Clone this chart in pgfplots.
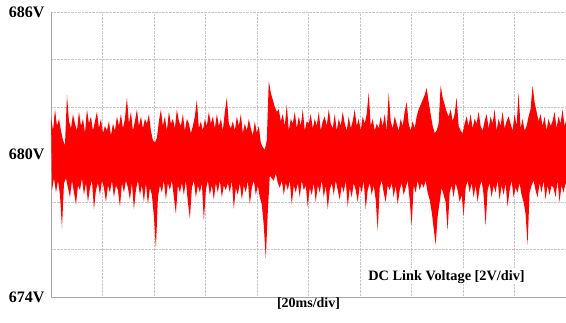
\documentclass[border=0pt]{standalone}
\usepackage{fontspec}
\setmainfont{Liberation Serif}
\usepackage{pgfplots}
\pgfplotsset{compat=1.18}
\usepgfplotslibrary{fillbetween}
\usepackage{pgfplotstable}
% DC link voltage samples: hi = upper excursion, lo = lower excursion (every 0.776 ms)
\pgfplotstableread{
hi lo
681.6 678.5
681.0 679.0
681.9 678.4
681.2 678.9
681.5 678.3
681.0 676.9
680.6 678.8
680.4 679.0
682.5 678.6
681.4 678.2
681.1 678.9
681.7 678.4
681.3 677.9
681.0 678.7
681.8 678.5
681.2 679.0
681.5 678.3
680.9 678.8
681.9 678.0
681.3 678.6
681.6 678.9
681.0 677.7
681.4 678.5
681.8 678.8
681.1 678.3
681.5 678.9
680.9 678.6
681.2 678.0
681.0 678.7
681.4 678.4
680.8 678.9
681.3 678.2
681.0 678.7
681.6 678.5
681.2 677.8
681.7 678.8
681.1 678.4
681.5 678.9
682.4 678.6
681.3 678.1
681.8 678.8
681.0 677.7
681.4 678.5
681.9 678.9
681.2 678.3
681.6 678.7
681.1 678.0
681.5 678.8
681.3 677.9
681.7 678.6
681.0 678.3
680.6 677.4
680.5 676.05
680.7 678.2
681.4 678.7
681.9 678.4
681.2 678.9
681.6 678.1
681.0 678.8
681.8 678.5
681.3 678.9
681.5 678.2
681.1 677.5
681.9 678.7
681.4 678.4
681.2 678.8
681.7 678.3
681.0 678.9
681.5 678.0
681.3 677.3
680.9 678.6
681.2 678.9
681.6 678.2
682.3 678.7
681.1 678.4
681.4 678.8
681.0 677.2
681.5 678.5
681.2 678.9
681.8 678.3
681.3 678.7
681.6 678.1
681.1 678.8
681.7 678.4
681.2 678.9
681.5 678.2
681.0 678.7
681.8 678.5
682.4 678.8
681.3 678.4
681.1 678.9
681.4 677.7
681.0 678.6
681.6 678.3
681.2 678.8
681.7 678.1
680.9 678.7
681.3 678.4
681.0 678.9
681.5 677.9
681.1 678.6
680.8 678.9
681.4 678.3
680.9 678.7
681.2 678.2
680.5 677.9
680.3 677.0
680.2 675.6
680.6 677.6
683.1 679.1
682.6 679.0
682.3 678.9
682.0 679.2
681.8 678.8
681.9 678.6
681.4 678.9
681.7 678.3
681.2 678.8
682.1 678.5
681.0 678.9
681.5 677.9
681.3 678.7
681.8 678.4
681.1 678.8
681.6 678.2
681.2 678.9
681.9 678.5
681.0 678.7
681.4 677.8
681.3 678.6
681.7 678.3
681.1 678.8
681.5 678.0
681.2 678.7
681.8 678.4
681.0 678.9
681.4 678.2
681.6 678.7
681.2 677.7
681.9 678.5
681.3 678.8
681.1 678.3
681.7 678.9
681.0 678.5
681.5 678.1
681.2 678.7
681.8 678.4
681.3 678.9
681.0 677.8
681.6 678.6
681.1 678.2
681.4 678.8
681.9 678.5
681.2 678.0
681.5 678.7
681.0 678.4
681.6 678.9
681.3 677.7
681.7 678.5
682.6 678.8
681.2 678.3
681.5 678.7
681.0 678.1
681.3 676.8
681.1 678.6
681.6 678.9
681.2 678.4
681.7 678.0
681.0 678.7
682.6 678.5
681.4 678.8
681.1 678.2
681.6 678.7
681.3 677.9
681.0 678.5
681.5 678.8
681.2 678.3
681.8 678.6
682.2 678.9
681.3 678.1
681.0 677.0
681.4 678.7
681.1 678.4
681.6 678.9
681.9 678.5
682.1 678.8
682.3 678.6
682.5 678.9
682.8 678.4
682.2 678.1
681.7 677.6
681.2 676.9
680.9 676.2
681.0 677.4
681.3 678.0
682.9 678.6
682.4 678.3
682.1 678.0
681.8 676.8
681.6 678.4
681.9 678.7
681.4 678.2
681.7 678.8
682.4 678.5
681.2 678.0
681.0 678.3
680.9 677.4
681.3 678.6
681.6 678.9
681.2 678.4
681.7 678.8
681.1 678.2
681.5 678.7
681.3 678.0
681.8 678.6
681.2 678.9
681.0 678.3
681.4 677.0
681.7 678.5
681.1 678.8
681.6 678.2
681.3 678.7
681.9 678.4
681.0 678.9
681.5 678.1
681.2 678.7
681.8 678.3
681.1 678.8
681.4 677.8
681.6 678.5
681.3 678.9
681.0 678.2
681.7 678.6
681.2 678.4
682.6 678.8
681.1 678.3
681.5 678.0
681.0 677.5
681.2 676.2
681.6 678.4
681.9 678.7
682.9 678.9
682.2 678.5
681.8 678.2
681.4 678.8
681.7 678.4
681.2 678.9
681.6 678.1
681.0 678.7
681.5 678.3
681.2 678.7
681.4 678.6
681.8 678.2
681.1 678.9
681.6 678.0
681.3 678.7
681.9 678.4
681.2 678.8
681.5 678.5
}\dcdata
\begin{document}
\begin{tikzpicture}
\begin{axis}[
  scale only axis, width=515pt, height=285pt,
  xmin=0, xmax=200, ymin=674, ymax=686,
  xtick={0,20,...,200}, xticklabels={},
  ytick={674,676,...,686},
  yticklabels={674V,,,680V,,,686V},
  grid=major,
  major grid style={gray!45, densely dotted, line width=0.6pt},
  axis x line=bottom, axis y line=left,
  axis line style={-, gray!70, line width=1pt},
  major tick length=0pt,
  yticklabel style={font=\bfseries\fontsize{16}{16}\selectfont, xshift=-3pt},
  xlabel={[20ms/div]},
  xlabel style={font=\bfseries\fontsize{14}{14}\selectfont, at={(axis description cs:0.5,0)}, anchor=north, inner sep=1pt},
  clip=true,
]
\addplot[name path=up, draw=none, forget plot] table[x expr=\coordindex*0.776, y=hi] {\dcdata};
\addplot[name path=lo, draw=none, forget plot] table[x expr=\coordindex*0.776+0.388, y=lo] {\dcdata};
\addplot[fill=red, draw=none] fill between[of=up and lo];
\node[font=\bfseries\fontsize{14.3}{14}\selectfont, fill=white, inner sep=1pt] at (axis cs:153.6,674.85) {DC Link Voltage [2V/div]};
\coordinate (bl) at (rel axis cs:0,0);
\coordinate (tr) at (rel axis cs:1,1);
\end{axis}
\pgfresetboundingbox
\path ([shift={(-51pt,-25pt)}]bl) rectangle ([shift={(0pt,12pt)}]tr);
\end{tikzpicture}
\end{document}
